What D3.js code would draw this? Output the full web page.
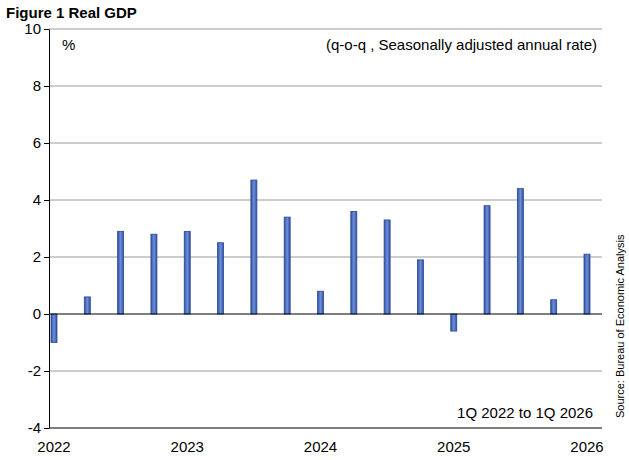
<!DOCTYPE html>
<html><head><meta charset="utf-8">
<script src="https://cdn.jsdelivr.net/npm/d3@7"></script>
<style>body{margin:0;background:#fff;font-family:Arial,"Liberation Sans",sans-serif}</style>
</head><body><svg></svg>
<script>
const quarters = ['1Q22','2Q22','3Q22','4Q22','1Q23','2Q23','3Q23','4Q23','1Q24','2Q24','3Q24','4Q24','1Q25','2Q25','3Q25','4Q25','1Q26']
const growth = [-1.0, 0.6, 2.9, 2.8, 2.9, 2.5, 4.7, 3.4, 0.8, 3.6, 3.3, 1.9, -0.6, 3.8, 4.4, 0.5, 2.1]
const yTicks = [-4, -2, 0, 2, 4, 6, 8, 10]
const yearLabels = ['2022', '2023', '2024', '2025', '2026']

const width = 629
const height = 460
const plotLeft = 49
const plotRight = 602
const plotTop = 29
const plotBottom = 428

const svg = d3.select('svg').attr('width', width).attr('height', height)

const x = d3.scaleLinear().domain([0, quarters.length - 1]).range([54, 587])
const y = d3.scaleLinear().domain([-4, 10]).range([plotBottom, plotTop])

const defs = svg.append('defs')
const grad = defs.append('linearGradient').attr('id', 'bar')
grad.append('stop').attr('offset', '0%').attr('stop-color', '#2f4f9e')
grad.append('stop').attr('offset', '50%').attr('stop-color', '#6f8fdc')
grad.append('stop').attr('offset', '100%').attr('stop-color', '#2f4f9e')

// grid
svg.selectAll('.grid').data(yTicks.filter(d => d !== 0 && d !== -4)).enter().append('line')
  .attr('x1', plotLeft).attr('x2', plotRight)
  .attr('y1', d => y(d)).attr('y2', d => y(d))
  .attr('stroke', '#9a9a9a').attr('stroke-width', 1)

// bars
svg.selectAll('rect.bar').data(growth).enter().append('rect')
  .attr('x', (d, i) => x(i) - 3)
  .attr('width', 6)
  .attr('y', d => y(Math.max(0, d)))
  .attr('height', d => Math.abs(y(d) - y(0)))
  .attr('fill', 'url(#bar)')
  .attr('stroke', '#2a4a96').attr('stroke-width', 0.8)

// zero line
svg.append('line').attr('x1', plotLeft).attr('x2', plotRight)
  .attr('y1', y(0)).attr('y2', y(0)).attr('stroke', '#000')

// y axis
const yAxis = d3.axisLeft(y).tickValues(yTicks).tickSize(5).tickSizeOuter(0).tickFormat(d => String(d))
const gy = svg.append('g').attr('transform', `translate(${plotLeft},0)`).call(yAxis)
gy.selectAll('text').attr('font-size', 15).attr('font-family', 'Arial, Liberation Sans').attr('fill', '#000')
gy.selectAll('line, path').attr('stroke', '#000')

// x axis
svg.append('line').attr('x1', plotLeft).attr('x2', plotRight)
  .attr('y1', plotBottom).attr('y2', plotBottom).attr('stroke', '#000')
svg.selectAll('.xl').data(yearLabels).enter().append('text')
  .attr('x', (d, i) => x(i * 4)).attr('y', 452)
  .attr('text-anchor', 'middle').attr('font-size', 15).text(d => d)

svg.append('text').attr('x', 6).attr('y', 18).attr('font-size', 15).attr('font-weight', 'bold').text('Figure 1 Real GDP')
svg.append('text').attr('x', 62).attr('y', 50).attr('font-size', 15).text('%')
svg.append('text').attr('x', 597).attr('y', 50).attr('text-anchor', 'end').attr('font-size', 15).text('(q-o-q , Seasonally adjusted annual rate)')
svg.append('text').attr('x', 593).attr('y', 418).attr('text-anchor', 'end').attr('font-size', 15).text('1Q 2022 to 1Q 2026')
svg.append('text').attr('transform', 'translate(624,418) rotate(-90)').attr('font-size', 11).text('Source: Bureau of Economic Analysis')
</script></body></html>
